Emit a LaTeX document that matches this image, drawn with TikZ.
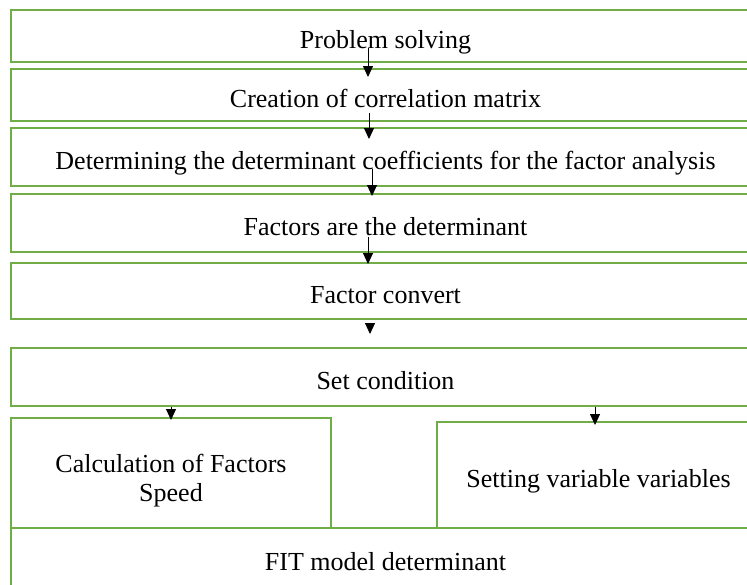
\documentclass[tikz,border=0pt]{standalone}
\usepackage{fontspec}
\setmainfont{Liberation Serif}
\usetikzlibrary{arrows.meta,calc}
\definecolor{boxgreen}{RGB}{112,173,71}
\begin{document}
\begin{tikzpicture}[x=1pt,y=-1pt,
  box/.style={draw=boxgreen,line width=2pt,rectangle,inner sep=0pt,align=center,
    font=\fontsize{26}{29}\selectfont,text height=25pt,text depth=0pt},
  arr/.style={line width=1pt,-{Triangle[width=10pt,length=11pt]}}]
\useasboundingbox (0,0) rectangle (747,584);
\begin{scope}
\clip (0,0) rectangle (747,584);
\node[box,minimum width=749pt,minimum height=52pt] (b1) at (385.5,36) {Problem solving};
\node[box,minimum width=749pt,minimum height=52pt] (b2) at (385.5,95) {Creation of correlation matrix};
\node[box,minimum width=749pt,minimum height=58pt] (b3) at (385.5,157) {Determining the determinant coefficients for the factor analysis};
\node[box,minimum width=749pt,minimum height=58pt] (b4) at (385.5,223) {Factors are the determinant};
\node[box,minimum width=749pt,minimum height=56pt] (b5) at (385.5,291) {Factor convert};
\node[box,minimum width=749pt,minimum height=58pt] (b6) at (385.5,377) {Set condition};
\node[box,minimum width=320pt,minimum height=110pt,text height=56pt] (b7) at (171,473) {Calculation of Factors\\Speed};
\node[box,minimum width=323pt,minimum height=106pt] (b8) at (598.5,475) {Setting variable variables};
\node[box,minimum width=749pt,minimum height=66pt,text height=19pt] (b9) at (385.5,561) {FIT model determinant};
\end{scope}
\coordinate (s1) at ($(b1.south)+(-17.5,-15)$);
\coordinate (e1) at ($(b2.north)+(-17.5,9)$);
\coordinate (s2) at ($(b2.south)+(-16.5,-9)$);
\coordinate (e2) at ($(b3.north)+(-16.5,12)$);
\coordinate (s3) at ($(b3.south)+(-13.5,-18)$);
\coordinate (e3) at ($(b4.north)+(-13.5,3)$);
\coordinate (s4) at ($(b4.south)+(-17.5,-16)$);
\coordinate (e4) at ($(b5.north)+(-17.5,2)$);
\coordinate (s5) at ($(b5.south)+(-15.5,3)$);
\coordinate (e5) at ($(b6.north)+(-15.5,-13)$);
\coordinate (s6) at (b6.south -| b7.north);
\coordinate (e6) at ($(b7.north)+(0,3)$);
\coordinate (s7) at ($(b6.south)+(209.5,0)$);
\coordinate (e7) at ($(b8.north)+(-3.5,4)$);
\draw[arr] (s1) -- (e1);
\draw[arr] (s2) -- (e2);
\draw[arr] (s3) -- (e3);
\draw[arr] (s4) -- (e4);
\draw[arr] (s5) -- (e5);
\draw[arr] (s6) -- (e6);
\draw[arr] (s7) -- (e7);
\end{tikzpicture}
\end{document}
